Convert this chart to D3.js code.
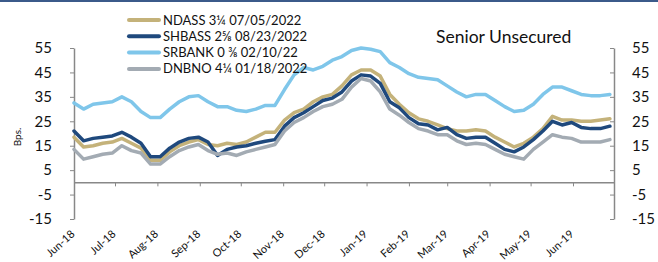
<!DOCTYPE html>
<html>
<head>
<meta charset="utf-8">
<script src="https://cdn.jsdelivr.net/npm/d3@7"></script>
<style>
  body { margin: 0; background: #fff; }
  svg { display: block; font-family: Lato, "Open Sans", sans-serif; }
</style>
</head>
<body>
<script>
// weekly observations, Jun-2018 .. Jun-2019
var dates = ['2018-06-01','2018-06-08','2018-06-15','2018-06-22','2018-06-29',
  '2018-07-06','2018-07-13','2018-07-20','2018-07-27',
  '2018-08-03','2018-08-10','2018-08-17','2018-08-24','2018-08-31',
  '2018-09-07','2018-09-14','2018-09-21','2018-09-28',
  '2018-10-05','2018-10-12','2018-10-19','2018-10-26',
  '2018-11-02','2018-11-09','2018-11-16','2018-11-23','2018-11-30',
  '2018-12-07','2018-12-14','2018-12-21','2018-12-28',
  '2019-01-04','2019-01-11','2019-01-18','2019-01-25',
  '2019-02-01','2019-02-08','2019-02-15','2019-02-22',
  '2019-03-01','2019-03-08','2019-03-15','2019-03-22','2019-03-29',
  '2019-04-05','2019-04-12','2019-04-19','2019-04-26',
  '2019-05-03','2019-05-10','2019-05-17','2019-05-24','2019-05-31',
  '2019-06-07','2019-06-14','2019-06-21','2019-06-28'];

var ndass = [18.5,14.5,15,16,16.5,18,16,14,9,9,12.5,15,16.5,17.5,15.5,15,16,15.5,16.5,18.5,20.5,20.5,
  25.5,28.5,30,33,35,36,39.5,44,46,46,43.5,36,32,28.5,26,25,23.5,22,21,21,21.5,21,18.5,16.5,14.5,16,
  18.5,22,27,25.5,25.5,25,25,25.5,26];
var shbass = [21,17,18,18.5,19,20.5,18.5,16,10.5,10.5,14,16.5,18,18.5,16.5,11,13.5,14.5,15,16,16.8,17.5,
  23,26.5,28.5,31,33.5,34.5,37,41.5,44,43.5,40.5,33,30.5,26.5,24,23.5,21.5,22.5,19.5,18,18.5,18.5,16,13.5,12.5,14.5,
  17.5,21,25,23.5,24.5,22.5,22,22,23];
var srbank = [32.5,30,32,32.5,33,35,33,29,26.5,26.5,30,33,35,35.5,33,31,31,29.5,29,30,31.5,31.5,
  38,44,47,46,47.5,50,51.5,54,55,54.5,53.5,49,47,44.5,43,42.5,42,39.5,37,35,36,36,33.5,31,29,29.5,
  32,36,39,39,37.5,36,35.5,35.5,36];
var dnbno = [13.5,9.5,10.5,11.5,12,15,13,12,7.5,7.5,10.5,13,14.5,15.5,13,11.5,12,11,12.5,13.5,14.5,15.5,
  21,24.5,26.5,29,31,32,34,39,42.5,41.5,37,30,27.5,24.5,22,21,19.5,19.5,17,15.5,16,15.5,13.5,11.5,10.5,9.5,
  13.5,16.5,19.5,18.5,18,16.5,16.5,16.5,17.5];

var seriesNames = ['NDASS 3\u00BC 07/05/2022', 'SHBASS 2\u215D 08/23/2022', 'SRBANK 0 \u215C 02/10/22', 'DNBNO 4\u00BC 01/18/2022'];
var seriesColors = ['#c4b27a', '#1f497d', '#7fc6ea', '#a3abb3'];
var yTicks = [-15, -5, 5, 15, 25, 35, 45, 55];
var monthTicks = ['2018-06-01','2018-07-01','2018-08-01','2018-09-01','2018-10-01','2018-11-01','2018-12-01',
  '2019-01-01','2019-02-01','2019-03-01','2019-04-01','2019-05-01','2019-06-01'];

var w = 658, h = 262;
var parse = d3.timeParse('%Y-%m-%d');
var svg = d3.select('body').append('svg').attr('width', w).attr('height', h);

// top rule
svg.append('rect').attr('x', 0).attr('y', 0).attr('width', w).attr('height', 2).attr('fill', '#3b5a8a');

var x = d3.scaleTime()
  .domain([parse('2018-06-01'), parse('2019-07-01')])
  .range([74, 614]);
var y = d3.scaleLinear().domain([-15, 55]).range([219, 48]);

var axisColor = '#888';
var plain = function(d){ return String(d); };

// left axis
var gl = svg.append('g').attr('transform', 'translate(74,0)')
  .call(d3.axisLeft(y).tickValues(yTicks).tickFormat(plain).tickSize(4).tickPadding(18).tickSizeOuter(0));
// right axis
var gr = svg.append('g').attr('transform', 'translate(614,0)')
  .call(d3.axisRight(y).tickValues(yTicks).tickFormat(plain).tickSize(-4).tickPadding(18).tickSizeOuter(0));
[gl, gr].forEach(function(g){
  g.select('.domain').attr('stroke', axisColor).attr('stroke-width', 1.5);
  g.selectAll('line').attr('stroke', axisColor);
  g.selectAll('text').attr('font-size', 15).attr('fill', '#111').attr('font-family', 'Lato, sans-serif');
});

// x axis along zero
var gx = svg.append('g').attr('transform', 'translate(0,' + y(0) + ')')
  .call(d3.axisBottom(x).tickValues(monthTicks.map(parse)).tickSize(4).tickSizeOuter(0)
    .tickFormat(d3.timeFormat('%b-%y')));
gx.select('.domain').attr('stroke', axisColor).attr('stroke-width', 1.5);
gx.selectAll('line').attr('stroke', axisColor);
gx.selectAll('text')
  .attr('x', 0).attr('y', 0).attr('dy', 0)
  .attr('transform', 'translate(1,' + (235 - y(0)) + ') rotate(-42)')
  .style('text-anchor', 'end')
  .attr('font-size', 11).attr('fill', '#111').attr('font-family', 'Lato, sans-serif');

// lines
var line = d3.line()
  .x(function(d){ return x(d.date); })
  .y(function(d){ return y(d.v); });

[ndass, shbass, srbank, dnbno].forEach(function(vals, i){
  var pts = vals.map(function(v, j){ return { date: parse(dates[j]), v: v }; });
  svg.append('path').datum(pts)
    .attr('d', line)
    .attr('fill', 'none')
    .attr('stroke', seriesColors[i])
    .attr('stroke-width', 3.5)
    .attr('stroke-linejoin', 'round')
    .attr('stroke-linecap', 'round');
});

// legend
var lg = svg.append('g');
seriesNames.forEach(function(name, i){
  var ly = 20 + i * 16.3;
  lg.append('line').attr('x1', 129).attr('x2', 159).attr('y1', ly).attr('y2', ly)
    .attr('stroke', seriesColors[i]).attr('stroke-width', 4).attr('stroke-linecap', 'round');
  lg.append('text').attr('x', 163).attr('y', ly + 4.5).text(name)
    .attr('font-size', 13).attr('fill', '#111');
});

// title
svg.append('text').attr('x', 436).attr('y', 43).text('Senior Unsecured')
  .attr('font-size', 17.5).attr('fill', '#111');

// y label
svg.append('text').attr('transform', 'translate(21,137) rotate(-90)')
  .attr('text-anchor', 'middle').text('Bps.')
  .attr('font-size', 10).attr('fill', '#111');
</script>
</body>
</html>
